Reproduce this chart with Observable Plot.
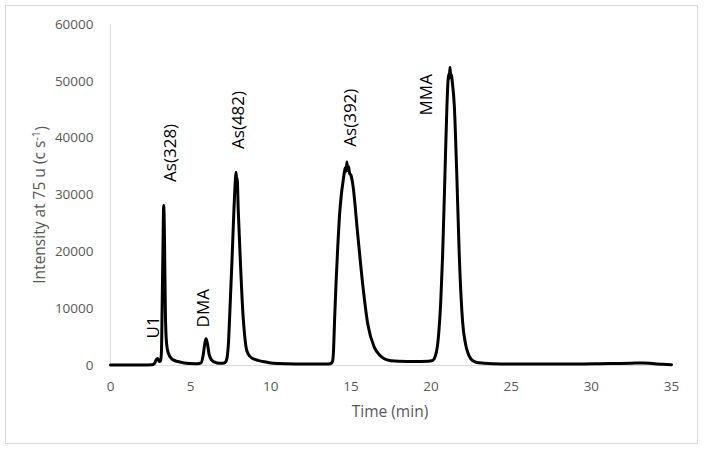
<!DOCTYPE html>
<html>
<head>
<meta charset="utf-8">
<script src="https://cdn.jsdelivr.net/npm/d3@7"></script>
<script src="https://cdn.jsdelivr.net/npm/@observablehq/plot@0.6"></script>
<style>
  html, body { margin: 0; padding: 0; background: #fff; }
  #wrap { position: relative; width: 704px; height: 449px; overflow: hidden; }
  #frame { position: absolute; left: 5px; top: 5px; width: 693px; height: 439px; box-sizing: border-box; border: 1px solid #d9d9d9; }
  #chart { position: absolute; left: 0; top: 0; }
</style>
</head>
<body>
<div id="wrap"><div id="frame"></div><div id="chart"></div></div>
<script>
// Chromatogram trace (time in min, intensity in counts/s)
const time = [
  0, 1, 2, 2.6, 2.75, 2.85, 2.95, 3.05, 3.12, 3.18, 3.22, 3.27, 3.32, 3.37, 3.42, 3.47, 3.55, 3.7, 3.9, 4.2,
  4.6, 5.0, 5.4, 5.65, 5.78, 5.88, 5.96, 6.05, 6.15, 6.3, 6.5, 6.8, 7.1, 7.2, 7.28, 7.36, 7.45, 7.58, 7.7, 7.8,
  7.84, 7.87, 7.9, 7.97, 8.1, 8.25, 8.38, 8.5, 8.7, 8.87, 9.2, 9.5, 10.0, 10.5, 11, 12, 13, 13.5, 13.75, 13.85,
  13.92, 13.98, 14.07, 14.18, 14.28, 14.4, 14.49, 14.59, 14.65, 14.7, 14.75, 14.8, 14.85, 14.92, 15.0, 15.11, 15.42, 15.73, 16.05, 16.46,
  16.8, 17.08, 17.5, 18.0, 19.0, 19.8, 20.1, 20.2, 20.3, 20.4, 20.5, 20.6, 20.72, 20.87, 20.99, 21.1, 21.14, 21.18, 21.22, 21.26,
  21.32, 21.45, 21.6, 21.76, 21.97, 22.15, 22.3, 22.5, 22.8, 23.3, 23.84, 25, 27, 29, 30.5, 31.5, 32.5, 33.2, 33.8, 34.5,
  35
];
const intensity = [
  100, 100, 100, 150, 400, 1000, 1250, 700, 800, 2500, 10000, 20000, 28150, 22000, 10000, 5000, 2800, 1600, 1000, 700,
  450, 350, 300, 450, 1800, 3800, 4700, 3800, 2000, 1000, 600, 400, 450, 700, 1500, 4000, 9700, 18500, 27300, 33000,
  34000, 32000, 33000, 27300, 18500, 9700, 5000, 2640, 1600, 1230, 900, 700, 450, 350, 300, 250, 250, 250, 350, 700,
  3000, 8000, 14400, 21000, 26100, 30000, 32000, 34000, 34800, 34200, 35800, 34300, 35000, 33800, 33500, 32000, 23200, 14400, 7300, 3200,
  1800, 1180, 850, 750, 700, 750, 900, 1200, 2000, 3500, 6500, 11000, 19350, 34000, 45700, 51300, 50500, 52500, 50800, 51200,
  50000, 45700, 34000, 19350, 7600, 3800, 2200, 1100, 580, 400, 300, 250, 250, 250, 300, 350, 400, 450, 350, 200,
  150
];

// Peak annotations (anchor = bottom of rotated label)
const peakNames = ["U1", "As(328)", "DMA", "As(482)", "As(392)", "MMA"];
const peakLabelTime = [2.71, 3.74, 5.83, 7.97, 15.0, 19.74];
const peakLabelIntensity = [4750, 32300, 6700, 38100, 38500, 44000];

// Axis ticks
const xTicks = [0, 5, 10, 15, 20, 25, 30, 35];
const yTicks = [0, 10000, 20000, 30000, 40000, 50000, 60000];

const trace = time.map((t, i) => ({t, v: intensity[i]}));
const labels = peakNames.map((n, i) => ({n, t: peakLabelTime[i], v: peakLabelIntensity[i]}));

const chart = Plot.plot({
  width: 704,
  height: 449,
  marginTop: 24,
  marginRight: 33,
  marginBottom: 84,
  marginLeft: 110,
  style: {fontFamily: "'Open Sans', sans-serif", fontSize: "13.5px", color: "#595959", background: "transparent"},
  x: {domain: [0, 35], ticks: xTicks, tickSize: 0, tickPadding: 16, label: null},
  y: {domain: [0, 60000], ticks: yTicks, tickSize: 0, tickPadding: 17, tickFormat: d3.format("d"), label: null},
  marks: [
    Plot.ruleY([0], {stroke: "#d9d9d9", strokeWidth: 1}),
    Plot.ruleX([0], {stroke: "#d9d9d9", strokeWidth: 1}),
    Plot.line(trace, {x: "t", y: "v", stroke: "black", strokeWidth: 3, curve: "monotone-x", strokeLinejoin: "round"}),
    Plot.text(labels, {x: "t", y: "v", text: "n", rotate: -90, textAnchor: "start", lineAnchor: "middle", fontSize: 17, fill: "black"})
  ]
});
document.getElementById("chart").appendChild(chart);

const svg = d3.select(chart);
const yt = svg.append("text")
  .attr("transform", "translate(40,205) rotate(-90)")
  .attr("text-anchor", "middle")
  .attr("dy", "0.35em")
  .attr("fill", "#595959")
  .style("font-family", "'Open Sans', sans-serif")
  .style("font-size", "15.5px");
yt.append("tspan").text("Intensity at 75 u (c s");
yt.append("tspan").attr("dy", "-0.45em").style("font-size", "11px").text("-1");
yt.append("tspan").attr("dy", "0.45em").text(")");

svg.append("text")
  .attr("x", 390)
  .attr("y", 412)
  .attr("text-anchor", "middle")
  .attr("dy", "0.35em")
  .attr("fill", "#595959")
  .style("font-family", "'Open Sans', sans-serif")
  .style("font-size", "15.5px")
  .text("Time (min)");
</script>
</body>
</html>
